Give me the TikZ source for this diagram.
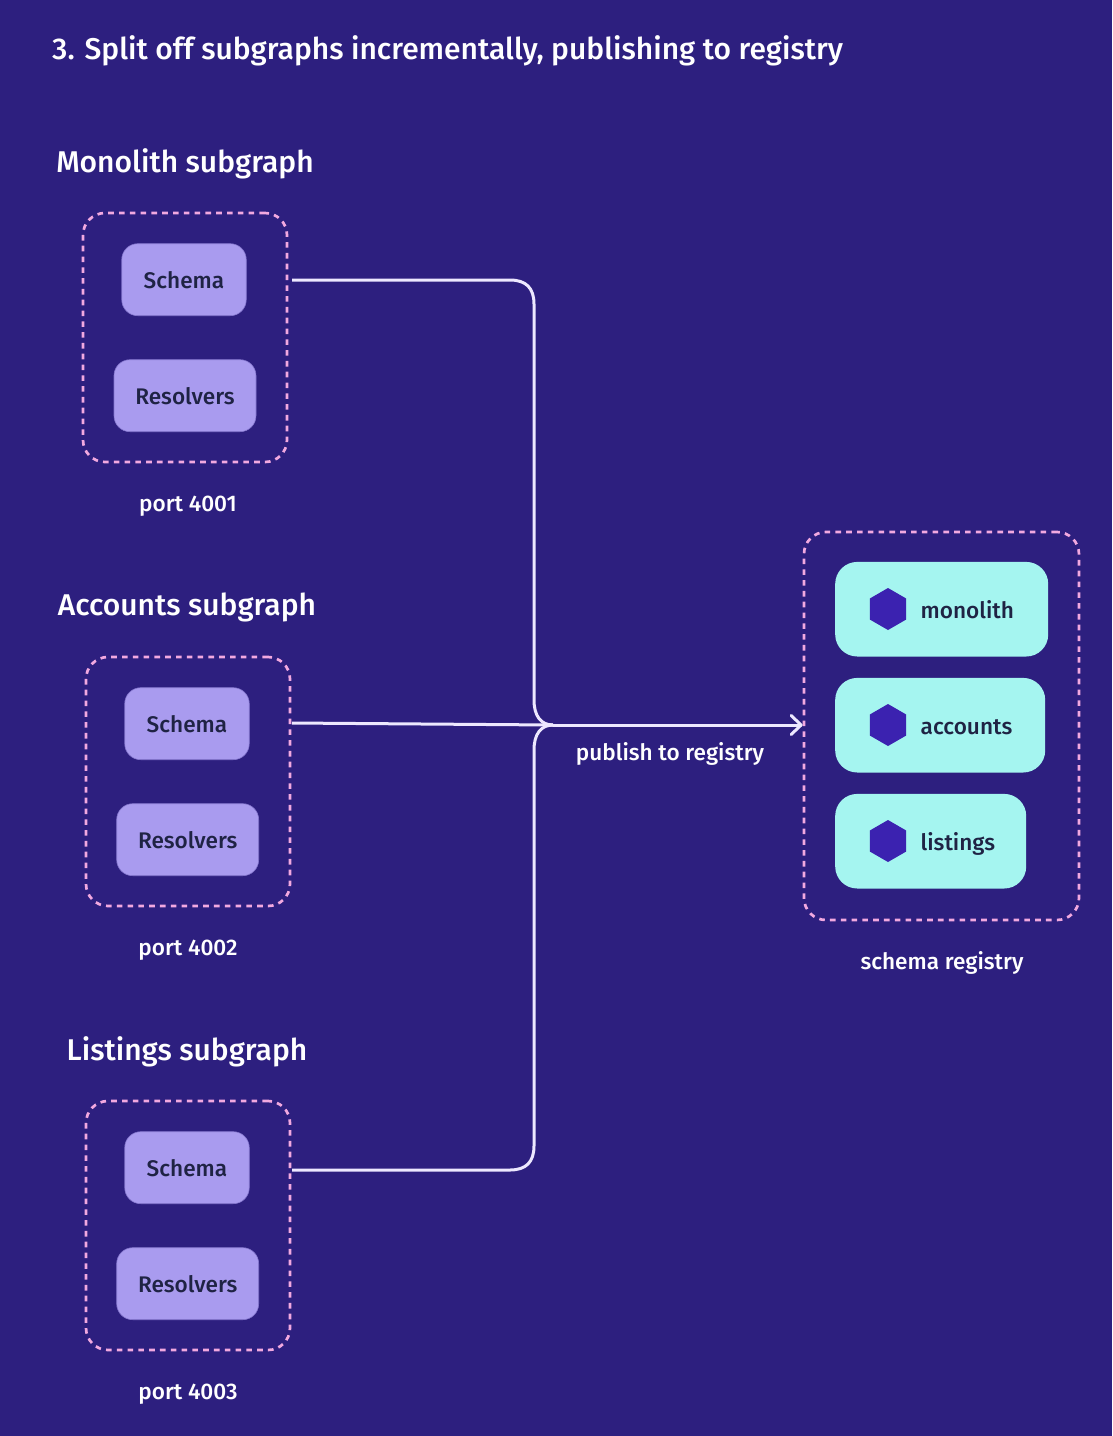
\documentclass[tikz,border=0pt]{standalone}
\usepackage{fontspec}
\setmainfont{Fira Sans}[UprightFont=* Medium]
\usetikzlibrary{arrows.meta,shapes.geometric,calc}
\definecolor{bgc}{HTML}{2D1F7F}
\definecolor{lilac}{HTML}{A99BEF}
\definecolor{teal}{HTML}{A5F5F0}
\definecolor{hexc}{HTML}{3B22B0}
\definecolor{dashc}{HTML}{F2A9E0}
\definecolor{darktxt}{HTML}{1F2344}
\definecolor{wire}{HTML}{EDE8FF}
\tikzset{
  x=1pt,y=-1pt,
  titletxt/.style={text=white,anchor=west,inner sep=0pt,font=\fontsize{30}{36}\selectfont},
  headtxt/.style={text=white,inner sep=0pt,font=\fontsize{30}{36}\selectfont},
  captxt/.style={text=white,inner sep=0pt,font=\fontsize{22.6}{28}\selectfont},
  dbox/.style={draw=dashc,line width=2.7pt,dash pattern=on 5.6pt off 5.2pt,rounded corners=22pt,inner sep=0pt,minimum width=#1},
  pill/.style={fill=lilac,draw=lilac!70!bgc,line width=.6pt,rounded corners=16pt,inner sep=0pt,text=darktxt,minimum height=72pt,font=\fontsize{22.6}{28}\selectfont},
  reg/.style={fill=teal,rounded corners=22pt,inner sep=0pt,minimum height=94.6pt,anchor=west},
  hexa/.style={regular polygon,regular polygon sides=6,fill=hexc,inner sep=0pt,minimum size=42pt,shape border rotate=90},
  lab/.style={text=darktxt,anchor=base west,inner sep=0pt,font=\fontsize{22.6}{28}\selectfont},
  wireline/.style={draw=wire,line width=3pt}
}
\begin{document}
\begin{tikzpicture}
\useasboundingbox (0,0) rectangle (1112,1436);
\fill[bgc] (0,0) rectangle (1112,1436);
\node[titletxt] (t) at (52,51) {3. Split off subgraphs incrementally, publishing to registry};
% monolith
\node[headtxt] (mh) at (185,163.5) {Monolith subgraph};
\node[dbox=204pt,minimum height=249pt] (mb) at (185,337.5) {};
\node[pill,minimum width=124.5pt] (ms) at (184,279.7) {Schema};
\node[pill,minimum width=142pt] (mr) at (185,395.7) {Resolvers};
\node[captxt] (mc) at (188,506) {port 4001};
% accounts
\node[headtxt] (ah) at (187,607.5) {Accounts subgraph};
\node[dbox=204pt,minimum height=249pt] (ab) at (188,781.5) {};
\node[pill,minimum width=124.5pt] (as) at (187,723.7) {Schema};
\node[pill,minimum width=142pt] (ar) at (187.7,839.7) {Resolvers};
\node[captxt] (ac) at (188,950) {port 4002};
% listings
\node[headtxt] (lh) at (187,1051.5) {Listings subgraph};
\node[dbox=204pt,minimum height=249pt] (lb) at (188,1225.5) {};
\node[pill,minimum width=124.5pt] (ls) at (187,1167.7) {Schema};
\node[pill,minimum width=142pt] (lr) at (187.7,1283.7) {Resolvers};
\node[captxt] (lc) at (188,1394) {port 4003};
% registry
\node[dbox=275pt,minimum height=388pt] (rb) at (941.5,726) {};
\node[reg,minimum width=213pt] (r1) at (835,609.2) {};
\node[reg,minimum width=210pt] (r2) at (835,725.2) {};
\node[reg,minimum width=191pt] (r3) at (835,841.2) {};
\node[hexa] (h1) at (888,609) {};
\node[hexa] (h2) at (888,725) {};
\node[hexa] (h3) at (888,841) {};
\node[lab] (l1) at (920.5,618) {monolith};
\node[lab] (l2) at (920.5,734) {accounts};
\node[lab] (l3) at (920.5,850) {listings};
\node[captxt] (rc) at (942,963) {schema registry};
\node[captxt] (pub) at (670,754) {publish to registry};
% connectors
\coordinate (mo) at (292,280);
\coordinate (ao) at (292,723);
\coordinate (lo) at (292,1170);
\coordinate (jn) at (553,725);
\draw[wireline] (mo) -- (510,280) .. controls (526,280) and (534,288) .. (534,304) -- (534,700) .. controls (534,716) and (541,725) .. (jn);
\draw[wireline] (lo) -- (510,1170) .. controls (526,1170) and (534,1162) .. (534,1146) -- (534,750) .. controls (534,734) and (541,725) .. (jn);
\draw[wireline] (ao) -- (jn);
\draw[wireline,-{Straight Barb[length=10pt,width=19pt,line width=3pt,round]}] (jn) -- (jn -| rb.west);
\end{tikzpicture}
\end{document}
